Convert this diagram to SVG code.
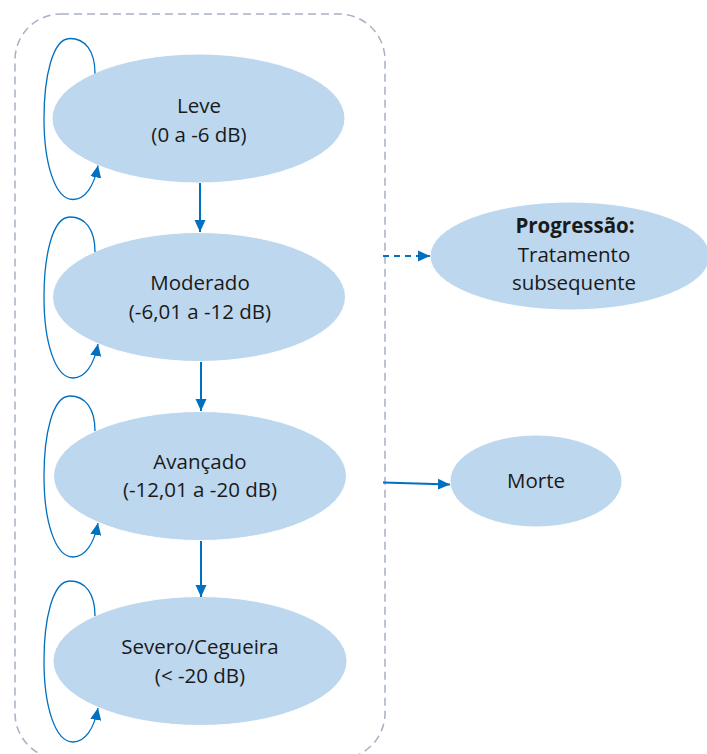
<svg xmlns="http://www.w3.org/2000/svg" width="707" height="754" viewBox="0 0 707 754">
<style>
.node{fill:#BDD7EE;stroke:#FFFFFF;stroke-width:1}
.t{font-family:"Open Sans","Liberation Sans",sans-serif;font-size:20.5px;fill:#1a1a1a;text-anchor:middle}
.b{font-weight:bold}
.arr{stroke:#0070C0;stroke-width:2;fill:none;marker-end:url(#ah)}
.loop{stroke:#0070C0;stroke-width:1.3;fill:none;marker-end:url(#ah)}
.dash{stroke:#0070C0;stroke-width:2;fill:none;stroke-dasharray:6 5;marker-end:url(#ah)}
</style>
<defs>
<marker id="ah" markerUnits="userSpaceOnUse" markerWidth="12" markerHeight="12" viewBox="0 0 12 12" refX="12" refY="6" orient="auto">
<path d="M0,0.5 L12,6 L0,11.5 Z" fill="#0070C0"/>
</marker>
</defs>
<rect x="15" y="14" width="370" height="745" rx="46" ry="46" fill="none" stroke="#A7B1C2" stroke-width="1.5" stroke-dasharray="8 5"/>
<g id="leve">
<ellipse class="node" cx="198.5" cy="118.5" rx="146.5" ry="64.5"/>
<text class="t" x="199" y="113">Leve</text>
<text class="t" x="199" y="142">(0 a -6 dB)</text>
</g>
<g id="moderado">
<ellipse class="node" cx="199" cy="297" rx="146.5" ry="64.5"/>
<text class="t" x="200" y="290">Moderado</text>
<text class="t" x="200" y="319">(-6,01 a -12 dB)</text>
</g>
<g id="avancado">
<ellipse class="node" cx="200" cy="476" rx="146.5" ry="64.5"/>
<text class="t" x="200" y="469">Avançado</text>
<text class="t" x="200" y="497">(-12,01 a -20 dB)</text>
</g>
<g id="severo">
<ellipse class="node" cx="200" cy="661" rx="147" ry="64.5"/>
<text class="t" x="200" y="654">Severo/Cegueira</text>
<text class="t" x="200" y="683">(&lt; -20 dB)</text>
</g>
<g id="progressao">
<ellipse class="node" cx="570" cy="256" rx="140" ry="54"/>
<text class="t b" x="575" y="233">Progressão:</text>
<text class="t" x="574" y="262">Tratamento</text>
<text class="t" x="574" y="290">subsequente</text>
</g>
<g id="morte">
<ellipse class="node" cx="536" cy="481" rx="86" ry="46"/>
<text class="t" x="536" y="488">Morte</text>
</g>
<g id="connectors">
<path class="loop" transform="translate(0,118.5)" d="M95,-45 C95,-68 85,-80 70,-80 C52,-80 44,-40 44,0 C44,45 55,81 73,81 C85,81 94,68 98,47"/>
<path class="loop" transform="translate(0,297)" d="M95,-45 C95,-68 85,-80 70,-80 C52,-80 44,-40 44,0 C44,45 55,81 73,81 C85,81 94,68 98,47"/>
<path class="loop" transform="translate(0,476)" d="M95,-45 C95,-68 85,-80 70,-80 C52,-80 44,-40 44,0 C44,45 55,81 73,81 C85,81 94,68 98,47"/>
<path class="loop" transform="translate(0,661)" d="M95,-45 C95,-68 85,-80 70,-80 C52,-80 44,-40 44,0 C44,45 55,81 73,81 C85,81 94,68 98,47"/>
<line class="arr" x1="200" y1="183" x2="200" y2="232"/>
<line class="arr" x1="201" y1="362" x2="201" y2="411"/>
<line class="arr" x1="201" y1="541" x2="201" y2="597"/>
<line class="dash" x1="383" y1="256" x2="430" y2="256"/>
<line class="arr" x1="383" y1="482.5" x2="450" y2="484.5"/>
</g>
</svg>
